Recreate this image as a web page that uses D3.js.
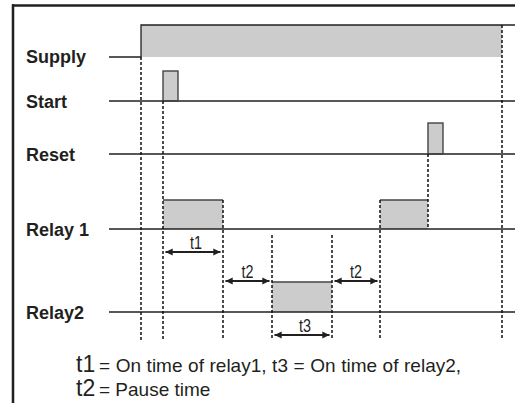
<!DOCTYPE html>
<html><head><meta charset="utf-8">
<script src="https://cdn.jsdelivr.net/npm/d3@7"></script>
<style>body{margin:0;background:#fff}svg{display:block}</style>
</head><body><div id="chart"></div>
<script>
// ---- data (time in arbitrary units) ----
const signals = ["Supply", "Start", "Reset", "Relay 1", "Relay2"];
const supplyOn = 3.2, supplyEnd = 39.3;
const startPulse = [5.4, 6.9];
const resetPulse = [31.9, 33.4];
const relay1Pulses = [[5.4, 11.4], [27.1, 31.9]];
const relay2Pulses = [[16.3, 22.3]];
const intervals = [
  {label: "t1", from: 5.4, to: 11.4, row: "t1"},
  {label: "t2", from: 11.4, to: 16.3, row: "t2"},
  {label: "t2", from: 22.3, to: 27.1, row: "t2"},
  {label: "t3", from: 16.3, to: 22.3, row: "t3"}
];
const legendLines = [
  {key: "t1", text: "= On time of relay1, t3 = On time of relay2,"},
  {key: "t2", text: "= Pause time"}
];

// ---- layout ----
const W = 515, H = 403;
const ink = "#231f20", fillC = "#cccccc";
const svg = d3.select("#chart").append("svg").attr("width", W).attr("height", H);
const x = d3.scaleLinear().domain([0, 40.6]).range([109, 515]);
const y = d3.scaleOrdinal().domain(signals).range([57, 101, 154, 229, 312]);
const pulseH = d3.scaleOrdinal().domain(signals).range([32, 30, 31, 29, 30]);
const arrowY = d3.scaleOrdinal().domain(["t1", "t2", "t3"]).range([252, 281, 335]);
const dashBottom = 340;

// frame (top + left)
svg.append("line").attr("x1", 12).attr("x2", W).attr("y1", 5.5).attr("y2", 5.5)
  .attr("stroke", ink).attr("stroke-width", 2.5);
svg.append("line").attr("x1", 13).attr("x2", 13).attr("y1", 4.3).attr("y2", H)
  .attr("stroke", ink).attr("stroke-width", 2.5);

// labels
svg.selectAll("text.sig").data(signals).join("text")
  .attr("class", "sig").attr("x", 26)
  .attr("y", d => d === "Supply" ? y(d) + 5.5 : y(d) + 6.5)
  .attr("font-family", "Liberation Sans, Arial, sans-serif")
  .attr("font-weight", "bold").attr("font-size", 18).attr("fill", ink)
  .text(d => d);

// fills first
const supTop = y("Supply") - pulseH("Supply");
svg.append("rect").attr("x", x(supplyOn)).attr("y", supTop)
  .attr("width", x(supplyEnd) - x(supplyOn)).attr("height", pulseH("Supply")).attr("fill", fillC);

function pulseRects(name, list) {
  svg.selectAll(null).data(list).join("rect")
    .attr("x", d => x(d[0])).attr("y", y(name) - pulseH(name))
    .attr("width", d => x(d[1]) - x(d[0])).attr("height", pulseH(name))
    .attr("fill", fillC);
}
pulseRects("Start", [startPulse]);
pulseRects("Reset", [resetPulse]);
pulseRects("Relay 1", relay1Pulses);
pulseRects("Relay2", relay2Pulses);

// supply waveform
svg.append("path").attr("fill", "none").attr("stroke", ink).attr("stroke-width", 1.3)
  .attr("d", d3.line()([[x(0), y("Supply")], [x(supplyOn), y("Supply")], [x(supplyOn), supTop], [W, supTop]]));

// baselines
svg.selectAll(null).data(signals.slice(1)).join("line")
  .attr("x1", x(0)).attr("x2", W).attr("y1", d => y(d)).attr("y2", d => y(d))
  .attr("stroke", ink).attr("stroke-width", 1.3);

// start/reset boxes
[["Start", startPulse], ["Reset", resetPulse]].forEach(([n, p]) => {
  svg.append("rect").attr("x", x(p[0])).attr("y", y(n) - pulseH(n))
    .attr("width", x(p[1]) - x(p[0])).attr("height", pulseH(n))
    .attr("fill", "none").attr("stroke", "#444").attr("stroke-width", 1.4);
});

// relay tops
[["Relay 1", relay1Pulses], ["Relay2", relay2Pulses]].forEach(([n, list]) => {
  svg.selectAll(null).data(list).join("line")
    .attr("x1", d => x(d[0])).attr("x2", d => x(d[1]))
    .attr("y1", y(n) - pulseH(n)).attr("y2", y(n) - pulseH(n))
    .attr("stroke", "#444").attr("stroke-width", 1.6);
});

// dashed verticals
const r1Top = y("Relay 1") - pulseH("Relay 1");
const dashes = [
  {t: supplyOn, y0: y("Supply")},
  {t: startPulse[0], y0: y("Start")},
  {t: relay1Pulses[0][1], y0: r1Top},
  {t: relay2Pulses[0][0], y0: y("Relay 1") + 6},
  {t: relay2Pulses[0][1], y0: y("Relay 1") + 6},
  {t: relay1Pulses[1][0], y0: r1Top},
  {t: supplyEnd, y0: supTop}
];
svg.selectAll(null).data(dashes).join("line")
  .attr("x1", d => x(d.t)).attr("x2", d => x(d.t))
  .attr("y1", d => d.y0).attr("y2", dashBottom)
  .attr("stroke", "#111").attr("stroke-width", 1.5).attr("stroke-dasharray", "3,2");
svg.append("line").attr("x1", x(resetPulse[0])).attr("x2", x(resetPulse[0]))
  .attr("y1", y("Reset")).attr("y2", y("Relay 1"))
  .attr("stroke", "#111").attr("stroke-width", 1.5).attr("stroke-dasharray", "3,2");

// arrows
const defs = svg.append("defs");
["s", "e"].forEach(k => {
  defs.append("marker").attr("id", "ah" + k).attr("viewBox", "0 0 10 10")
    .attr("refX", 10).attr("refY", 5).attr("markerWidth", 4).attr("markerHeight", 3.6)
    .attr("orient", k === "e" ? "auto" : "auto-start-reverse")
    .append("path").attr("d", "M0,0L10,5L0,10z").attr("fill", ink);
});
svg.selectAll(null).data(intervals).join("line")
  .attr("x1", d => x(d.from) + 2.5).attr("x2", d => x(d.to) - 2.5)
  .attr("y1", d => arrowY(d.row)).attr("y2", d => arrowY(d.row))
  .attr("stroke", ink).attr("stroke-width", 2)
  .attr("marker-start", "url(#ahs)").attr("marker-end", "url(#ahe)");
svg.selectAll(null).data(intervals).join("text")
  .attr("x", d => (x(d.from) + x(d.to)) / 2 + (d.row === "t1" ? 3 : d.row === "t3" ? 3 : 0))
  .attr("y", d => arrowY(d.row) - 3)
  .attr("text-anchor", "middle")
  .attr("font-family", "Liberation Sans Narrow, Liberation Sans, Arial, sans-serif")
  .attr("font-size", 18).attr("fill", ink)
  .attr("textLength", 12).attr("lengthAdjust", "spacingAndGlyphs")
  .text(d => d.label);

// legend
const legY = [372, 396];
legendLines.forEach((l, i) => {
  svg.append("text").attr("x", 76).attr("y", legY[i])
    .attr("font-family", "Liberation Sans, Arial, sans-serif").attr("font-size", 23).attr("fill", ink)
    .text(l.key);
  svg.append("text").attr("x", 99).attr("y", legY[i])
    .attr("font-family", "Liberation Sans, Arial, sans-serif").attr("font-size", 19).attr("fill", ink)
    .attr("word-spacing", i === 0 ? 0.3 : 0).text(l.text);
});
</script></body></html>
